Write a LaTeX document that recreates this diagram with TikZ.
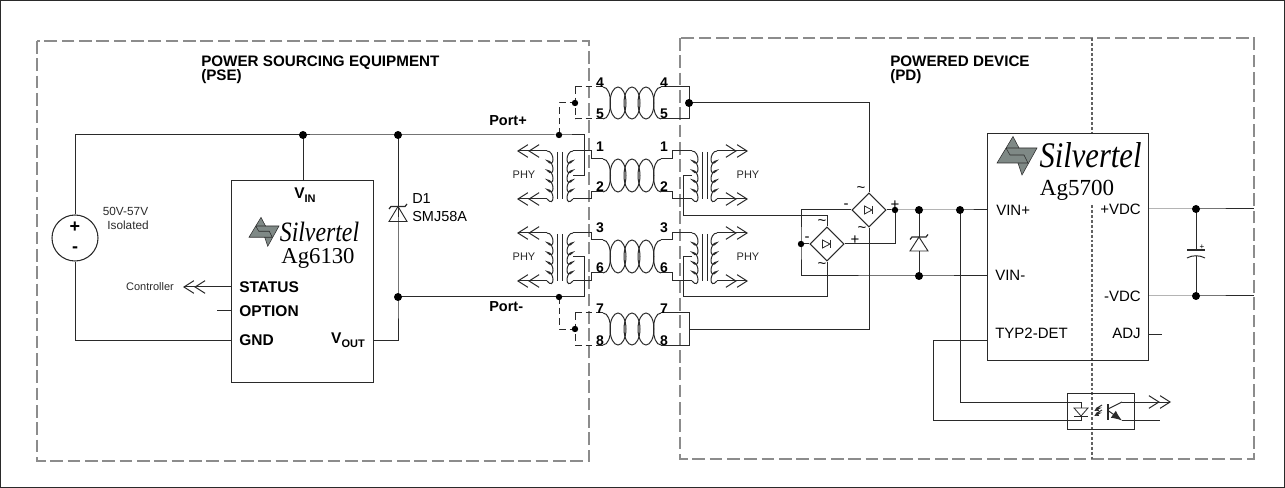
\documentclass[tikz,border=0pt]{standalone}
\usepackage{fontspec}
\setmainfont{Liberation Sans}
\newfontfamily\serifx{Liberation Serif}
\usetikzlibrary{arrows.meta,shapes.geometric}
\definecolor{ink}{HTML}{2A2A2A}
\definecolor{dashgray}{HTML}{8C8C8C}
\definecolor{logogray}{HTML}{7F8986}
\newcommand{\pxf}[1]{\fontsize{\dimexpr#1pt*3/4\relax}{\dimexpr#1pt*9/10\relax}\selectfont}
\tikzset{
  wire/.style={draw=ink,line width=0.75pt},
  dashwire/.style={draw=ink,line width=0.75pt,dash pattern=on 5pt off 3pt},
  zone/.style={draw=dashgray,line width=1.2pt,dash pattern=on 9.5pt off 3.5pt},
  divider/.style={draw=dashgray!70!black,line width=0.9pt,dash pattern=on 2.2pt off 1.5pt},
  core/.style={draw=ink,line width=0.7pt},
  dotn/.style={circle,fill=black,inner sep=0pt,minimum size=#1},
  dotn/.default=6pt,
  chip/.style={draw=ink,line width=0.9pt,inner sep=0pt,anchor=north west},
  pinb/.style={font=\bfseries\pxf{15.5},inner sep=0pt},
  pinr/.style={font=\pxf{15},inner sep=0pt},
  numl/.style={font=\bfseries\pxf{14},inner sep=0pt},
  small/.style={font=\pxf{11},text=ink,inner sep=0pt},
  title/.style={font=\bfseries\pxf{15.2},inner sep=0pt,anchor=base west},
  sign/.style={font=\pxf{15},inner sep=0pt},
  dblarrow/.style={wire,-{Straight Barb[length=7.5pt,width=9.5pt,sep=-0.2pt]Straight Barb[length=7.5pt,width=9.5pt]}},
}
\newcommand{\coilv}[3]{%
  \draw[wire] (#1,#2)
  .. controls +(#3,0) and +(#3,9.6) .. ++(0,9.6)
  .. controls +(#3,0) and +(#3,9.6) .. ++(0,9.6)
  .. controls +(#3,0) and +(#3,9.6) .. ++(0,9.6)
  .. controls +(#3,0) and +(#3,9.6) .. ++(0,9.6)
  .. controls +(#3,0) and +(#3,9.6) .. ++(0,9.6);}
\newcommand{\twist}[2]{%
  \draw[wire] (618,{(#1+#2)/2}) ellipse [x radius=8,y radius={(#2-#1)/2}];
  \draw[wire] (632,{(#1+#2)/2}) ellipse [x radius=8,y radius={(#2-#1)/2}];
  \draw[wire] (646,{(#1+#2)/2}) ellipse [x radius=8,y radius={(#2-#1)/2}];
  \draw[wire] (603,#1) .. controls (613,#1) and (613,#2) .. (603,#2);
  \draw[wire] (661,#1) .. controls (651,#1) and (651,#2) .. (661,#2);}
\newcommand{\zener}[3]{%
  \draw[wire,line width=.7pt] (#1,#2) -- (#1-9,#3) -- (#1+9,#3) -- cycle;
  \draw[wire,line width=.9pt] (#1-9,#2+2.5) -- (#1-7,#2) -- (#1+7,#2) -- (#1+9,#2-2.5);}
\newcommand{\bridge}[3]{%
  \node[draw=ink,line width=.8pt,diamond,aspect=1,minimum size=25.5pt,inner sep=0pt,fill=white] (#1) at (#2,#3) {};
  \draw[wire,line width=.6pt] (#2-4.5,#3-4) -- (#2-4.5,#3+4) -- (#2+3,#3) -- cycle;
  \draw[wire,line width=.6pt] (#2+3.5,#3-4) -- (#2+3.5,#3+4);}
\newcommand{\logomark}[3]{%
  \begin{scope}[shift={(#1,#2)},scale=#3]
    \fill[logogray,draw=ink,line width=.4pt] (-4,-19.5) -- (-20,7) -- (1,7) -- (5,19) -- (20,-8) -- (2,-8) -- cycle;
    \draw[ink,line width=.4pt] (-11,-8) -- (2,-8) (-11,-8) -- (-7,-1) -- (7,-1) -- (11,7) -- (1,7);
  \end{scope}}
\begin{document}
\begin{tikzpicture}[x=0.75pt,y=-0.75pt]
\useasboundingbox (0,0) rectangle (1285,488);
\draw[draw=ink,line width=.7pt] (0.5,0.5) rectangle (1284.5,487.5);

% zones
\draw[zone] (37,41) rectangle (589,461);
\draw[zone] (680,38) rectangle (1254,459);
\draw[divider] (1092,38) -- (1092,133);
\draw[divider] (1092,205) -- (1092,459);

\node[title] at (201,66.5) {POWER SOURCING EQUIPMENT};
\node[title] at (201,81) {(PSE)};
\node[title] at (890,66.5) {POWERED DEVICE};
\node[title] at (890,81) {(PD)};

% junction coordinates
\coordinate (railTopL) at (75,135);
\coordinate (j303) at (303,135);
\coordinate (j398) at (398,135);
\coordinate (j559t) at (559,135);
\coordinate (j398b) at (398,297);
\coordinate (j559b) at (559,297);
\coordinate (j575t) at (575,103);
\coordinate (j575b) at (575,329);
\coordinate (j689t) at (689,103);
\coordinate (g895) at (895,210);
\coordinate (g919) at (919,210);
\coordinate (g960) at (960,210);
\coordinate (g801) at (801,244);
\coordinate (g919b) at (919,276);
\coordinate (c1196t) at (1196,209);
\coordinate (c1196b) at (1196,296);

% chips
\node[chip,minimum width=106.5pt,minimum height=151.5pt] (pse) at (231,180) {};
\node[chip,minimum width=120.75pt,minimum height=170.25pt] (pd) at (987,133) {};

% source
\node[draw=ink,line width=.8pt,circle,minimum size=34.5pt,inner sep=0pt] (src) at (75,238) {};
\node[font=\bfseries\pxf{18},inner sep=0pt] at (75,227) {+};
\node[font=\bfseries\pxf{18},inner sep=0pt] at (75,250) {-};
\node[font=\pxf{11.8},text=ink,inner sep=0pt] at (125.5,211) {50V-57V};
\node[font=\pxf{11.8},text=ink,inner sep=0pt] at (128,225) {Isolated};

% main rails
\draw[wire] (src.north) -- (railTopL) -- (j559t) -- (584,135) -- (584,176) -- (573,176);
\draw[wire] (src.south) -- (75,340) -- (231,340);
\draw[wire] (j303) -- (303,180);
\draw[wire] (j398) -- (j398b) -- (398,340) -- (373,340);
\draw[wire] (j398b) -- (584,297) -- (584,257) -- (573,257);
\zener{398}{206.5}{221.5}
\node[font=\pxf{14.5},inner sep=0pt,anchor=west] at (412,199) {D1};
\node[font=\pxf{14.5},inner sep=0pt,anchor=west] at (412,217) {SMJ58A};
\node[inner sep=0pt,anchor=west,font=\bfseries\pxf{14.5}] at (489,121) {Port+};
\node[inner sep=0pt,anchor=west,font=\bfseries\pxf{14.5}] at (489,307) {Port-};

% PSE pins
\coordinate (ctrl) at (183,287);
\coordinate (optl) at (217,311);
\draw[dblarrow] (231,287) -- (ctrl);
\draw[wire] (231,311) -- (optl);
\node[small] at (150,287) {Controller};
\node[pinb,anchor=west] at (239,287) {STATUS};
\node[pinb,anchor=west] at (239,311) {OPTION};
\node[pinb,anchor=west] at (239,340) {GND};
\node[pinb] at (305,195) {V\raisebox{-.25em}{\pxf{11}IN}};
\node[pinb,anchor=east] at (365,340.5) {V\raisebox{-.25em}{\pxf{11}OUT}};
\logomark{264}{232}{0.75}
\node[font=\serifx\itshape\pxf{28},inner sep=0pt] at (319.5,232) {\scalebox{0.85}[1]{Silvertel}};
\node[font=\serifx\pxf{22.7},inner sep=0pt] at (318,258) {Ag6130};

% dashed spare-pair links
\draw[dashwire] (j559t) -- (559,103) -- (j575t);
\draw[dashwire] (575,87) -- (575,119);
\draw[dashwire] (575,87) -- (603,87);
\draw[dashwire] (575,119) -- (603,119);
\draw[dashwire] (j559b) -- (559,329) -- (j575b);
\draw[dashwire] (575,313) -- (575,345);
\draw[dashwire] (575,313) -- (603,313);
\draw[dashwire] (575,345) -- (603,345);

% twisted pairs
\twist{87}{119}
\twist{159}{192}
\twist{240}{273}
\twist{313}{345}
\draw[wire] (661,87) -- (689,87) -- (689,119) -- (661,119);
\draw[wire] (661,313) -- (689,313) -- (689,345) -- (661,345);

% pair 1/2 and 3/6 stubs
\draw[wire] (573,151) -- (591,151) -- (591,159) -- (603,159);
\draw[wire] (573,199) -- (591,199) -- (591,192) -- (603,192);
\draw[wire] (661,159) -- (672,159) -- (672,151) -- (692,151);
\draw[wire] (661,192) -- (672,192) -- (672,199) -- (692,199);
\draw[wire] (573,233) -- (591,233) -- (591,240) -- (603,240);
\draw[wire] (573,281) -- (591,281) -- (591,273) -- (603,273);
\draw[wire] (661,240) -- (672,240) -- (672,233) -- (692,233);
\draw[wire] (661,273) -- (672,273) -- (672,281) -- (692,281);

% transformers
\foreach \yy/\nn in {151/a,233/b}{
  \coilv{547}{\yy}{8}
  \coilv{573}{\yy}{-8}
  \coilv{692}{\yy}{8}
  \coilv{717}{\yy}{-8}
  \draw[core] (557,\yy+1) -- (557,\yy+48);
  \draw[core] (562,\yy+1) -- (562,\yy+48);
  \draw[core] (702,\yy+1) -- (702,\yy+48);
  \draw[core] (707,\yy+1) -- (707,\yy+48);
  \coordinate (phyLt\nn) at (517,\yy);
  \coordinate (phyLb\nn) at (517,\yy+48);
  \coordinate (phyRt\nn) at (748,\yy);
  \coordinate (phyRb\nn) at (748,\yy+48);
  \draw[dblarrow] (547,\yy) -- (phyLt\nn);
  \draw[dblarrow] (547,\yy+48) -- (phyLb\nn);
  \draw[dblarrow] (717,\yy) -- (phyRt\nn);
  \draw[dblarrow] (717,\yy+48) -- (phyRb\nn);
  \node[small] at (524,\yy+24) {PHY};
  \node[small] at (748,\yy+24) {PHY};
}
% pair numbers
\foreach \yy/\tt in {83/4,114/5,147/1,187/2,228/3,268/6,309/7,341/8}{
  \node[numl] at (600,\yy) {\tt};
  \node[numl] at (664,\yy) {\tt};
}

% bridges
\bridge{br1}{869}{210}
\bridge{br2}{827}{244}
\draw[wire] (j689t) -- (869,103) -- (br1.north);
\draw[wire] (689,329) -- (869,329) -- (br1.south);
\draw[wire] (692,176) -- (683,176) -- (683,216) -- (827,216) -- (br2.north);
\draw[wire] (692,257) -- (683,257) -- (683,297) -- (827,297) -- (br2.south);
\draw[wire] (br1.west) -- (801,210) -- (g801) -- (801,276) -- (g919b) -- (987,276);
\draw[wire] (br2.west) -- (g801);
\draw[wire] (br2.east) -- (895,244) -- (g895);
\draw[wire] (br1.east) -- (g895) -- (g919) -- (g960) -- (987,210);
\draw[wire] (g919) -- (919,237);
\draw[wire] (919,251) -- (g919b);
\zener{919}{237}{251}
\node[sign] at (861,190) {\textasciitilde};
\node[sign] at (846,206) {-};
\node[sign] at (895,205) {+};
\node[sign] at (862,230) {\textasciitilde};
\node[sign] at (822,223) {\textasciitilde};
\node[sign] at (807,239) {-};
\node[sign] at (855,240) {+};
\node[sign] at (822,266) {\textasciitilde};

% PD pins
\node[pinr,anchor=west] at (996,210) {VIN+};
\node[pinr,anchor=west] at (995,275) {VIN-};
\node[pinr,anchor=west] at (995,333) {TYP2-DET};
\node[pinr,anchor=east] at (1141,209) {+VDC};
\node[pinr,anchor=east] at (1141,296) {-VDC};
\node[pinr,anchor=east] at (1141,333) {ADJ};
\coordinate (adjr) at (1162,334);
\draw[wire] (1148,334) -- (adjr);
\logomark{1017}{156}{1}
\node[font=\serifx\itshape\pxf{36},inner sep=0pt] at (1090.5,155) {\scalebox{0.85}[1]{Silvertel}};
\node[font=\serifx\pxf{23},inner sep=0pt] at (1077,190) {Ag5700};

% output and capacitor
\draw[wire] (1148,209) -- (c1196t) -- (1254,209);
\draw[wire] (1148,296) -- (c1196b) -- (1254,296);
\draw[wire] (c1196t) -- (1196,250);
\draw[wire] (1196,256) -- (c1196b);
\draw[wire,line width=.9pt] (1187,250) -- (1205,250);
\draw[wire] (1187,258) .. controls (1192,255) and (1200,255) .. (1205,258);
\node[font=\pxf{8},inner sep=0pt] at (1202,247) {+};

% optocoupler
\node[draw=ink,line width=.8pt,minimum width=50.5pt,minimum height=27.5pt,inner sep=0pt] (opto) at (1101,411.5) {};
\coordinate (optc) at (1171,402);
\coordinate (opte) at (1160,420.5);
\draw[wire] (g960) -- (960,402) -- (1081,402) -- (1081,408);
\draw[wire] (987,340) -- (933,340) -- (933,420.5) -- (1081,420.5) -- (1081,416);
\draw[wire,line width=.6pt] (1074,408) -- (1088,408) -- (1081,416) -- cycle;
\draw[wire,line width=.7pt] (1074,416) -- (1088,416);
\draw[wire,line width=1pt] (1108,404) -- (1108,420);
\draw[dblarrow] (1122,402) -- (optc);
\draw[wire] (1108,409) -- (1122,402);
\draw[wire] (1122,420.5) -- (opte);
\draw[wire,-{Latex[length=8pt,width=6.5pt]}] (1108,410.5) -- (1122,420.5);
\draw[wire,line width=.7pt,-{Latex[length=3.5pt,width=3.5pt]}] (1102,405) -- (1097,408) -- (1100,408) -- (1094,411);
\draw[wire,line width=.7pt,-{Latex[length=3.5pt,width=3.5pt]}] (1102,410) -- (1097,413) -- (1100,413) -- (1094,416);

% dots
\foreach \pp in {j303,j398,j398b,j689t,g919,g960,g919b,c1196t,c1196b}
  \node[dotn] at (\pp) {};
\foreach \pp in {j559t,j559b,j575t,j575b,g895,g801}
  \node[dotn=4.8pt] at (\pp) {};
\end{tikzpicture}
\end{document}
